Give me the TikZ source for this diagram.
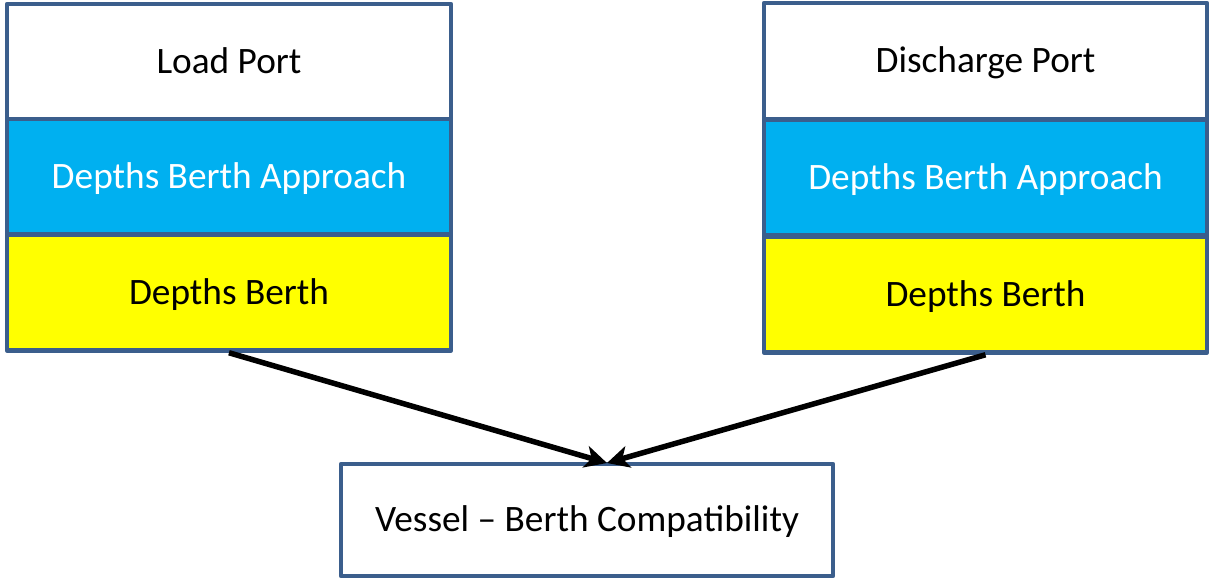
\documentclass[tikz,border=0pt]{standalone}
\usepackage{fontspec}
\setmainfont{Carlito}
\usetikzlibrary{arrows.meta}
\definecolor{bordc}{HTML}{3B5E8C}
\definecolor{bluec}{HTML}{00B0F0}
\definecolor{yelc}{HTML}{FFFF00}
\tikzset{
  row/.style={draw=bordc, line width=4.5pt, line join=round, minimum height=116pt, inner sep=0pt, text height=25pt, text depth=2pt, font=\fontsize{37.3}{44}\selectfont},
  lrow/.style={row, minimum width=444pt},
  rrow/.style={row, minimum width=443pt},
  conn/.style={line width=5.5pt, -{Stealth[length=22pt,width=22pt,inset=6pt]}, shorten >=0pt}
}
\begin{document}
\begin{tikzpicture}[x=1pt,y=-1pt]
\useasboundingbox (0,0) rectangle (1211,579);
% left block
\node[lrow, fill=white] (lp) at (229,62) {Load Port};
\node[lrow, fill=bluec, text=white] (la) at (229,177) {Depths Berth Approach};
\node[lrow, fill=yelc] (lb) at (229,292.5) {Depths Berth};
% right block
\node[rrow, fill=white] (dp) at (985.5,61) {Discharge Port};
\node[rrow, fill=bluec, text=white] (da) at (985.5,177.5) {Depths Berth Approach};
\node[rrow, fill=yelc] (db) at (985.5,294.5) {Depths Berth};
% bottom box
\node[row, fill=white, minimum width=492pt, minimum height=112pt] (vb) at (587,520) {Vessel – Berth Compatibility};
\coordinate (m) at (607,463);
\draw[conn] (lb.south) -- (m);
\draw[conn] (db.south) -- (m);
\end{tikzpicture}
\end{document}
